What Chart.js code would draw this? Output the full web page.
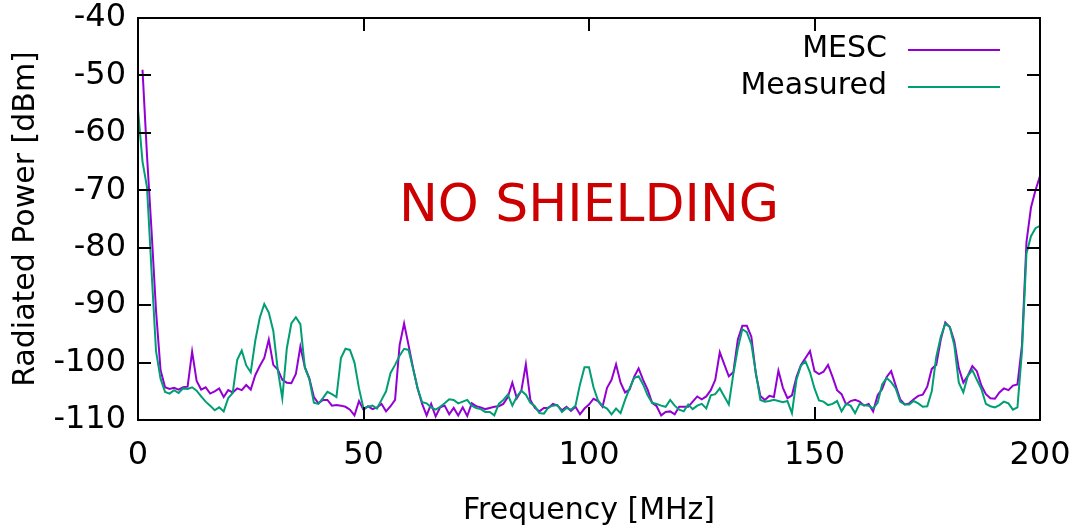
<!DOCTYPE html>
<html>
<head>
<meta charset="utf-8">
<script src="https://cdn.jsdelivr.net/npm/chart.js@4"></script>
<style>
  body { margin: 0; background: #fff; }
  canvas { display: block; }
</style>
</head>
<body>
<canvas id="chart" width="1078" height="529"></canvas>
<script>
// frequency axis, MHz
const freq = [
  0, 1, 2, 3, 4, 5, 6, 7, 8, 9, 10, 11, 12, 13, 14, 15, 16, 17, 18, 19,
  20, 21, 22, 23, 24, 25, 26, 27, 28, 29, 30, 31, 32, 33, 34, 35, 36, 37, 38, 39,
  40, 41, 42, 43, 44, 45, 46, 47, 48, 49, 50, 51, 52, 53, 54, 55, 56, 57, 58, 59,
  60, 61, 62, 63, 64, 65, 66, 67, 68, 69, 70, 71, 72, 73, 74, 75, 76, 77, 78, 79,
  80, 81, 82, 83, 84, 85, 86, 87, 88, 89, 90, 91, 92, 93, 94, 95, 96, 97, 98, 99,
  100, 101, 102, 103, 104, 105, 106, 107, 108, 109, 110, 111, 112, 113, 114, 115, 116, 117, 118, 119,
  120, 121, 122, 123, 124, 125, 126, 127, 128, 129, 130, 131, 132, 133, 134, 135, 136, 137, 138, 139,
  140, 141, 142, 143, 144, 145, 146, 147, 148, 149, 150, 151, 152, 153, 154, 155, 156, 157, 158, 159,
  160, 161, 162, 163, 164, 165, 166, 167, 168, 169, 170, 171, 172, 173, 174, 175, 176, 177, 178, 179,
  180, 181, 182, 183, 184, 185, 186, 187, 188, 189, 190, 191, 192, 193, 194, 195, 196, 197, 198, 199,
  200
];

// simulated (MESC), dBm
const mesc = [
  null, -49, -64, -77, -91, -101.3, -104.3, -104.6, -104.4, -104.7,
  -104.3, -104.2, -98.1, -103.2, -104.7, -104.3, -105.4, -105, -104.5, -106,
  -104.8, -105.2, -104.5, -104.8, -103.9, -104.7, -102.2, -100.6, -99.2, -96,
  -100.4, -101.2, -103, -103.5, -103.6, -102, -97.2, -100.8, -102.8, -106,
  -107.1, -106.5, -106.5, -107.5, -107.4, -107.5, -107.7, -108.2, -109.2, -106.7,
  -108.2, -107.6, -108.1, -107.8, -107.2, -108.5, -107.6, -106.5, -97, -93.2,
  -97, -101, -104.5, -107.2, -109.2, -107.2, -109.4, -107.8, -107.5, -109,
  -107.9, -109.2, -107.8, -109.3, -107.1, -107.6, -107.8, -108.1, -107.9, -107.7,
  -107.6, -107.2, -106, -103.5, -106.2, -104.9, -100.3, -106.5, -107.9, -108.5,
  -107.9, -107.9, -107.2, -107.5, -108.3, -107.7, -108.4, -107.7, -109, -108,
  -107.3, -106.3, -106.7, -107.7, -104.4, -103, -100.3, -103.5, -105.2, -104.7,
  -102.5, -101, -103, -104.7, -107, -107.6, -109.2, -108.6, -108.5, -109,
  -107.7, -107.7, -107.7, -106.8, -105.9, -106.4, -105.9, -104.8, -103, -98.2,
  -100.3, -102.4, -101.7, -96, -93.6, -93.6, -95.5, -102, -105.8, -106.5,
  -105.8, -106, -101.4, -104.4, -106.2, -105.7, -102.5, -100.4, -99.2, -98,
  -101.5, -102, -101.6, -100.4, -102.5, -104.8, -105.5, -107.3, -106.7, -106.5,
  -106.8, -107.5, -107.2, -108.5, -105.7, -104.6, -102.5, -101.5, -104, -106.4,
  -107.3, -107.1, -106.4, -105.8, -105.6, -104.2, -101.1, -100.4, -96, -93,
  -93.8, -96.3, -101, -103.5, -102.3, -100.6, -101.5, -104, -105.5, -106.2,
  -106.3, -105.2, -104.5, -104.8, -104, -103.8, -97, -79, -73, -70,
  -67.5
];

// measured, dBm
const measured = [
  -56, -65, -69.5, -84, -98, -102.8, -105.1, -105.4, -104.8, -105.3,
  -104.5, -104.6, -104.3, -104.9, -105.9, -106.8, -107.5, -108.3, -107.8, -108.5,
  -106.2, -105.3, -99.5, -97.9, -100.5, -101.7, -96.2, -92.2, -89.8, -91.3,
  -94.5, -101.3, -106.2, -97.5, -93.2, -92.1, -93.3, -100.9, -102.9, -107,
  -107.2, -106.2, -105.1, -105.5, -106, -99.2, -97.6, -97.8, -100, -104.5,
  -108, -107.7, -107.5, -108, -106.5, -105, -101.8, -100.4, -98.8, -97.6,
  -97.8, -101.1, -104.5, -106.9, -107.1, -107.8, -108.2, -107.7, -107.1, -106.4,
  -106.5, -107.1, -106.8, -106.5, -107.5, -107.9, -108.1, -108.6, -108.6, -109.2,
  -107.2, -106.5, -105.6, -107.5, -105.9, -104.9, -105.6, -107, -107.6, -108.8,
  -108.9, -107.8, -107.5, -107.4, -108.6, -107.9, -108.2, -107.5, -103.8, -100.8,
  -100.8, -104.3, -106.6, -107.6, -108, -109, -108, -108.8, -106.5, -104.5,
  -102.7, -102.4, -103.8, -105.7, -107, -107.2, -107.5, -107.7, -106.5, -107.5,
  -108.2, -108.5, -107.3, -108.1, -107.5, -107.2, -108, -105.7, -105.5, -104.5,
  -105.9, -107.3, -102, -97.5, -94.2, -94.7, -96.8, -101.8, -106.5, -106.8,
  -106.7, -106.5, -106.7, -106.9, -106.7, -108.8, -103, -100.5, -99.8, -101.7,
  -104.5, -106.6, -106.8, -107.4, -107.2, -106.7, -108.5, -107.2, -107.5, -108.8,
  -107.2, -107.4, -107.5, -108, -107, -103.8, -102.7, -103.4, -104.5, -106.8,
  -107.3, -107.3, -106.7, -107.1, -107.7, -107.6, -105, -99, -95.5, -93.2,
  -93.8, -97, -103.5, -105.2, -102.3, -101.3, -103, -104.6, -107.2, -107.6,
  -107.8, -107.4, -106.8, -107.1, -108.2, -107.8, -98, -81, -78, -76.6,
  -76.2
];

const xTicks = [0, 50, 100, 150, 200];
const yTicks = [-110, -100, -90, -80, -70, -60, -50, -40];

const FONT = 'DejaVu Sans';

function toPoints(ys) {
  return freq.map(function (f, i) { return { x: f, y: ys[i] }; });
}

// frame, inward ticks, legend and label
const framePlugin = {
  id: 'frame',
  afterDraw: function (chart) {
    const ctx = chart.ctx;
    const a = chart.chartArea;
    const xs = chart.scales.x;
    const ys = chart.scales.y;
    const tl = 13;
    ctx.save();
    ctx.strokeStyle = '#000';
    ctx.lineWidth = 2;
    ctx.beginPath();
    xTicks.forEach(function (t) {
      const px = Math.round(xs.getPixelForValue(t));
      ctx.moveTo(px, a.bottom); ctx.lineTo(px, a.bottom - tl);
      ctx.moveTo(px, a.top); ctx.lineTo(px, a.top + tl);
    });
    yTicks.forEach(function (t) {
      const py = Math.round(ys.getPixelForValue(t));
      ctx.moveTo(a.left, py); ctx.lineTo(a.left + tl, py);
      ctx.moveTo(a.right, py); ctx.lineTo(a.right - tl, py);
    });
    ctx.stroke();
    ctx.strokeRect(a.left, a.top, a.right - a.left, a.bottom - a.top);

    // legend
    ctx.font = '30px "' + FONT + '"';
    ctx.textAlign = 'right';
    ctx.textBaseline = 'middle';
    chart.data.datasets.forEach(function (ds, i) {
      const y = 49 + i * 37;
      ctx.fillStyle = '#000';
      ctx.fillText(ds.label, 887, y);
      ctx.strokeStyle = ds.borderColor;
      ctx.lineWidth = 2;
      ctx.beginPath();
      ctx.moveTo(908, y + 1);
      ctx.lineTo(1000, y + 1);
      ctx.stroke();
    });

    // annotation
    ctx.font = '52px "' + FONT + '"';
    ctx.textAlign = 'center';
    ctx.fillStyle = '#cc0000';
    ctx.fillText('NO SHIELDING', xs.getPixelForValue(100), ys.getPixelForValue(-73));
    ctx.restore();
  }
};

new Chart(document.getElementById('chart'), {
  type: 'line',
  data: {
    datasets: [
      {
        label: 'MESC',
        data: toPoints(mesc),
        borderColor: '#9400d3',
        borderWidth: 2,
        pointRadius: 0,
        tension: 0,
        spanGaps: true,
        order: 1
      },
      {
        label: 'Measured',
        data: toPoints(measured),
        borderColor: '#009e73',
        borderWidth: 2,
        pointRadius: 0,
        tension: 0,
        order: 0
      }
    ]
  },
  options: {
    responsive: false,
    animation: false,
    devicePixelRatio: 1,
    layout: { padding: { top: 18, right: 38, left: 0, bottom: 0 } },
    plugins: {
      legend: { display: false },
      tooltip: { enabled: false }
    },
    scales: {
      x: {
        type: 'linear',
        min: 0,
        max: 200,
        afterFit: function (s) {
          s.height = 109;
          s.paddingLeft = 0;
          s.paddingRight = 0;
        },
        afterBuildTicks: function (s) { s.ticks = xTicks.map(function (v) { return { value: v }; }); },
        grid: { display: false, drawTicks: false },
        border: { display: false },
        ticks: {
          color: '#000',
          padding: 16,
          maxRotation: 0,
          font: { family: FONT, size: 32 }
        },
        title: {
          display: true,
          text: 'Frequency [MHz]',
          color: '#000',
          font: { family: FONT, size: 30 },
          padding: { top: 0, bottom: 0 }
        }
      },
      y: {
        min: -110,
        max: -40,
        afterFit: function (s) {
          s.width = 138;
          s.paddingTop = 0;
          s.paddingBottom = 0;
        },
        afterBuildTicks: function (s) { s.ticks = yTicks.map(function (v) { return { value: v }; }); },
        grid: { display: false, drawTicks: false },
        border: { display: false },
        ticks: {
          color: '#000',
          padding: 12,
          font: { family: FONT, size: 32 }
        },
        title: {
          display: true,
          text: 'Radiated Power [dBm]',
          color: '#000',
          font: { family: FONT, size: 30 },
          padding: { top: 8, bottom: 0 }
        }
      }
    }
  },
  plugins: [framePlugin]
});
</script>
</body>
</html>
